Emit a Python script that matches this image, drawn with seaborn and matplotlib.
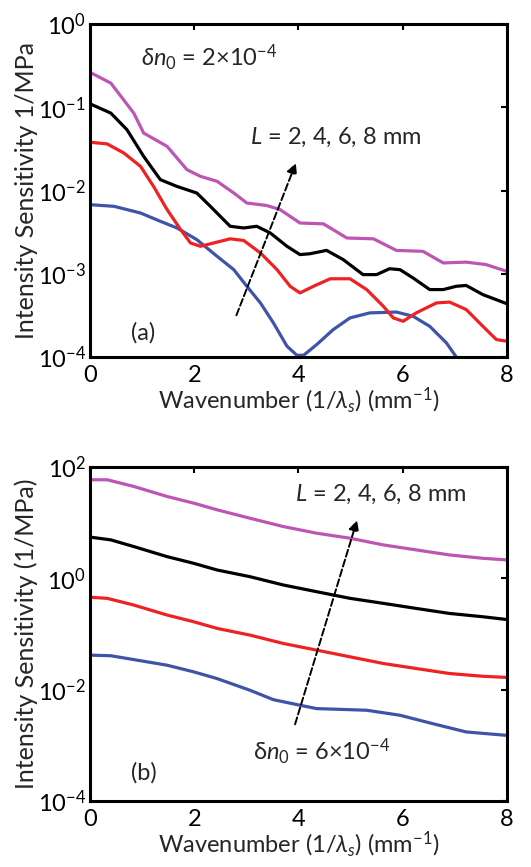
import numpy as np
import pandas as pd
import matplotlib
matplotlib.use('Agg')
import matplotlib.pyplot as plt
import seaborn as sns
from matplotlib.ticker import FixedLocator, FuncFormatter

# Panel (a): delta n0 = 2e-4
A_X_L2 = [0, 0.46, 0.97, 1.35, 1.67, 2.05, 2.44, 2.76, 3.01, 3.27, 3.52, 3.78, 3.97, 4.1,
          4.35, 4.67, 4.99, 5.37, 5.88, 6.2, 6.52, 6.84, 7.03, 7.2]
A_Y_L2 = [0.00676, 0.00646, 0.00537, 0.00427, 0.00355, 0.00257, 0.00162, 0.00112, 0.000708,
          0.000447, 0.000257, 0.000135, 0.000105, 0.000105, 0.000141, 0.000214, 0.000295,
          0.000339, 0.000347, 0.000309, 0.000234, 0.000148, 0.000100, 0.0000708]
A_X_L4 = [0, 0.33, 0.65, 0.97, 1.22, 1.48, 1.74, 1.93, 2.12, 2.37, 2.69, 2.95, 3.27, 3.59,
          3.84, 4.03, 4.29, 4.61, 4.99, 5.31, 5.63, 5.82, 6.01, 6.26, 6.65, 6.9, 7.22, 7.54,
          7.8, 8.0]
A_Y_L4 = [0.0380, 0.0363, 0.0282, 0.0195, 0.0112, 0.00589, 0.00339, 0.00234, 0.00214,
          0.00234, 0.00263, 0.00251, 0.00178, 0.00112, 0.000708, 0.000589, 0.000708,
          0.000871, 0.000871, 0.000646, 0.000407, 0.000295, 0.000269, 0.000339, 0.000447,
          0.000457, 0.000372, 0.000234, 0.000162, 0.000155]
A_X_L6 = [0, 0.4, 0.71, 1.03, 1.35, 1.67, 2.05, 2.31, 2.69, 2.95, 3.2, 3.46, 3.78, 4.03,
          4.22, 4.54, 4.86, 5.24, 5.5, 5.75, 5.95, 6.2, 6.52, 6.78, 7.03, 7.22, 7.54, 8.0]
A_Y_L6 = [0.110, 0.0851, 0.0537, 0.0257, 0.0135, 0.0112, 0.00933, 0.00646, 0.00372,
          0.00355, 0.00372, 0.00309, 0.00214, 0.00170, 0.00174, 0.00191, 0.00148, 0.000977,
          0.000977, 0.00115, 0.00112, 0.000891, 0.000646, 0.000646, 0.000708, 0.000724,
          0.000562, 0.000437]
A_X_L8 = [0, 0.4, 0.84, 1.03, 1.48, 1.86, 2.12, 2.44, 2.76, 3.01, 3.39, 3.65, 4.03, 4.48,
          4.93, 5.44, 5.88, 6.39, 6.78, 7.22, 7.60, 8.0]
A_Y_L8 = [0.263, 0.195, 0.0851, 0.0490, 0.0339, 0.0178, 0.0148, 0.0129, 0.00933, 0.00708,
          0.00661, 0.00589, 0.00407, 0.00398, 0.00269, 0.00263, 0.00191, 0.00186, 0.00135,
          0.00138, 0.00129, 0.00107]

# Panel (b): delta n0 = 6e-4
B_X_L2 = [0, 0.4, 0.84, 1.48, 1.99, 2.44, 3.07, 3.52, 4.03, 4.35, 4.99, 5.31, 5.95, 6.58,
          7.22, 8.0]
B_Y_L2 = [0.0417, 0.0407, 0.0347, 0.0275, 0.0209, 0.0158, 0.00977, 0.00661, 0.00525,
          0.00457, 0.00437, 0.00427, 0.00347, 0.00245, 0.00174, 0.00151]
B_X_L4 = [0, 0.33, 0.84, 1.48, 1.99, 2.44, 3.07, 3.71, 4.35, 4.99, 5.63, 6.26, 6.9, 7.54, 8.0]
B_Y_L4 = [0.457, 0.437, 0.331, 0.219, 0.166, 0.126, 0.0955, 0.0676, 0.0513, 0.0389, 0.0295,
          0.0240, 0.0195, 0.0174, 0.0166]
B_X_L6 = [0, 0.4, 0.84, 1.48, 1.99, 2.44, 3.07, 3.71, 4.35, 4.99, 5.63, 6.26, 6.9, 7.54, 8.0]
B_Y_L6 = [5.50, 4.90, 3.72, 2.45, 1.86, 1.41, 1.07, 0.759, 0.575, 0.437, 0.355, 0.288, 0.234,
          0.204, 0.182]
B_X_L8 = [0, 0.33, 0.84, 1.48, 1.99, 2.44, 3.07, 3.71, 4.35, 4.99, 5.63, 6.26, 6.9, 7.54, 8.0]
B_Y_L8 = [58.9, 58.9, 44.7, 29.5, 22.4, 17.0, 12.0, 8.51, 6.46, 5.25, 3.98, 3.24, 2.63, 2.29,
          2.14]

LENGTHS = ['2 mm', '4 mm', '6 mm', '8 mm']
COLORS = ['#3F54A8', '#EE2222', '#000000', '#BE55B4']

X_TICKS = [0, 2, 4, 6, 8]
A_Y_TICKS = [1e-4, 1e-3, 1e-2, 1e-1, 1e0]
B_Y_TICKS = [1e-4, 1e-2, 1e0, 1e2]


def long_frame(xs, ys):
    """Stack the four curves into one long-form table."""
    parts = []
    for name, x, y in zip(LENGTHS, xs, ys):
        parts.append(pd.DataFrame({'k': x, 'S': y, 'L': name}))
    return pd.concat(parts, ignore_index=True)


df_a = long_frame([A_X_L2, A_X_L4, A_X_L6, A_X_L8], [A_Y_L2, A_Y_L4, A_Y_L6, A_Y_L8])
df_b = long_frame([B_X_L2, B_X_L4, B_X_L6, B_X_L8], [B_Y_L2, B_Y_L4, B_Y_L6, B_Y_L8])

sns.set_theme(style='white')
plt.rcParams['font.family'] = ['Lato', 'DejaVu Sans']
plt.rcParams['mathtext.fontset'] = 'custom'
plt.rcParams['mathtext.rm'] = 'Lato'
plt.rcParams['mathtext.it'] = 'Lato:italic'

fig = plt.figure(figsize=(5.31, 8.67), dpi=100)
ax_a = fig.add_axes([0.1695, 0.5882, 0.785, 0.3841])
ax_b = fig.add_axes([0.1695, 0.0761, 0.785, 0.3853])

pow_fmt = FuncFormatter(lambda v, p: f'10$^{{{int(round(np.log10(v)))}}}$')


def style_axis(ax, ylim, yticks, ylabel):
    ax.set_yscale('log')
    ax.set_xlim(0, 8)
    ax.set_ylim(*ylim)
    ax.set_xticks(X_TICKS)
    ax.yaxis.set_major_locator(FixedLocator(yticks))
    ax.yaxis.set_minor_locator(plt.NullLocator())
    ax.yaxis.set_major_formatter(pow_fmt)
    ax.tick_params(direction='in', length=4, width=1.5, top=True, right=True,
                   labelsize=17, colors='black')
    ax.tick_params(axis='x', pad=6)
    ax.tick_params(axis='y', pad=3)
    for sp in ax.spines.values():
        sp.set_linewidth(2.2)
        sp.set_color('black')
    ax.set_xlabel(r'Wavenumber (1/$\lambda_s$) (mm$^{-1}$)', fontsize=17, labelpad=-1)
    ax.set_ylabel(ylabel, fontsize=18, labelpad=0)
    if ax.get_legend():
        ax.get_legend().remove()


sns.lineplot(data=df_a, x='k', y='S', hue='L', palette=COLORS, hue_order=LENGTHS,
             sort=False, estimator=None, linewidth=2.3, ax=ax_a)
style_axis(ax_a, (1e-4, 1e0), A_Y_TICKS, 'Intensity Sensitivity 1/MPa')
ax_a.text(0.97, 10 ** -0.41, r'$\delta n_0$ = 2×10$^{-4}$', fontsize=17, va='center')
ax_a.text(3.08, 10 ** -1.36, r'$L$ = 2, 4, 6, 8 mm', fontsize=17, va='center')
ax_a.text(0.78, 10 ** -3.71, '(a)', fontsize=17, va='center')
ax_a.annotate('', xy=(3.97, 10 ** -1.64), xytext=(2.79, 10 ** -3.53),
              arrowprops=dict(arrowstyle='-|>', linestyle='--', color='black', lw=1.4,
                              mutation_scale=15))

sns.lineplot(data=df_b, x='k', y='S', hue='L', palette=COLORS, hue_order=LENGTHS,
             sort=False, estimator=None, linewidth=2.3, ax=ax_b)
style_axis(ax_b, (1e-4, 1e2), B_Y_TICKS, 'Intensity Sensitivity (1/MPa)')
ax_b.text(3.94, 10 ** 1.5, r'$L$ = 2, 4, 6, 8 mm', fontsize=17, va='center')
ax_b.text(3.12, 10 ** -3.12, r'δ$n_0$ = 6×10$^{-4}$', fontsize=17, va='center')
ax_b.text(0.78, 10 ** -3.5, '(b)', fontsize=17, va='center')
ax_b.annotate('', xy=(5.14, 10 ** 1.09), xytext=(3.92, 10 ** -2.67),
              arrowprops=dict(arrowstyle='-|>', linestyle='--', color='black', lw=1.4,
                              mutation_scale=15))

fig.savefig('out.png', dpi=100)
